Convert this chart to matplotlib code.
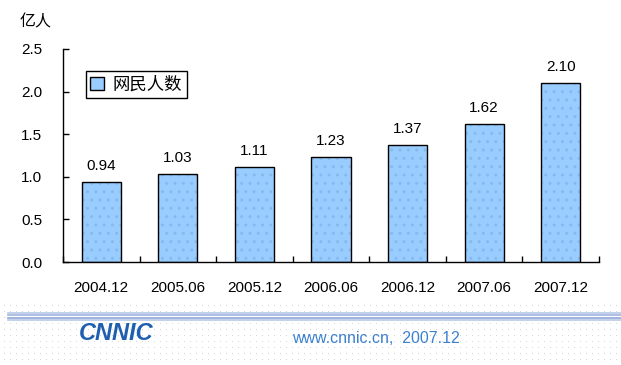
import matplotlib
matplotlib.use("Agg")
import matplotlib.pyplot as plt
from matplotlib.patches import Rectangle
import numpy as np

plt.rcParams['font.family'] = ['Liberation Sans', 'Noto Sans CJK SC', 'DejaVu Sans']

categories = ["2004.12", "2005.06", "2005.12", "2006.06", "2006.12", "2007.06", "2007.12"]
values = [0.94, 1.03, 1.11, 1.23, 1.37, 1.62, 2.10]
value_labels = ["0.94", "1.03", "1.11", "1.23", "1.37", "1.62", "2.10"]
series_name = "网民人数"
unit_label = "亿人"
yticks = [0.0, 0.5, 1.0, 1.5, 2.0, 2.5]
footer_site = "www.cnnic.cn,  2007.12"
logo_text = "CNNIC"

W, H = 621, 365
fig = plt.figure(figsize=(W / 100, H / 100), dpi=100)
fig.patch.set_facecolor("white")

ax = fig.add_axes([63 / W, 1 - 262 / H, (599 - 63) / W, (262 - 49) / H])
x = np.arange(len(categories))
bw = 0.51
plt.rcParams['hatch.linewidth'] = 1.0
ax.bar(x, values, width=bw, color="#99CCFF", edgecolor="#86B9EE", linewidth=0,
       hatch="..", zorder=2)
ax.bar(x, values, width=bw, facecolor="none", edgecolor="black", linewidth=1.0,
       zorder=3)
for xi, v, lab in zip(x, values, value_labels):
    ax.text(xi, v + 0.19, lab, ha="center", va="center", fontsize=11, color="black")

ax.set_xlim(-0.5, len(categories) - 0.5)
ax.set_ylim(0, 2.5)
ax.set_yticks(yticks)
ax.set_yticklabels([f"{t:.1f}" for t in yticks], fontsize=11)
ax.set_xticks(np.arange(len(categories) + 1) - 0.5, minor=False)
ax.set_xticklabels([""] * (len(categories) + 1))
ax.set_xticks(x, minor=True)
ax.set_xticklabels(categories, minor=True, fontsize=11)
ax.tick_params(axis="x", which="major", direction="in", length=4, width=1)
ax.tick_params(axis="x", which="minor", length=0, pad=14)
ax.tick_params(axis="y", direction="in", length=4, width=1, pad=15)
for s in ["top", "right"]:
    ax.spines[s].set_visible(False)
for s in ["left", "bottom"]:
    ax.spines[s].set_linewidth(1.0)

handle = Rectangle((0, 0), 1, 1, facecolor="#99CCFF", edgecolor="black", linewidth=1)
leg = ax.legend([handle], [series_name], loc="upper left",
                bbox_to_anchor=(86 / W, 1 - 71 / H), bbox_transform=fig.transFigure,
                prop={"family": ["Noto Sans CJK SC"], "size": 12.5},
                handlelength=0.8, handleheight=0.8, handletextpad=0.5,
                borderpad=0.25, fancybox=False, framealpha=1, borderaxespad=0)
leg.get_frame().set_edgecolor("black")
leg.get_frame().set_linewidth(1.0)

fig.text(20 / W, 1 - 22 / H, unit_label, fontsize=11.5, ha="left", va="center",
         family=["Noto Sans CJK SC"])

# footer
fax = fig.add_axes([0, 0, 1, 1 - 300 / H], zorder=-1)
fax.set_xlim(0, W)
fax.set_ylim(H, 300)
fax.axis("off")
dx, dy = np.meshgrid(np.arange(4, W, 6), np.arange(305, H, 6))
fax.scatter(dx.ravel(), dy.ravel(), s=0.5, color="#D4D4D4", linewidths=0)
for yy, c in [(313, "#B8C8E8"), (315.5, "#9FB4E0"), (318, "#8FA6D8"), (320.5, "#B8C8E8")]:
    fax.plot([8, W], [yy, yy], color=c, linewidth=1.2)
fax.text(116, 334, logo_text, fontsize=17, fontweight="bold", style="italic",
         color="#1F5FAF", ha="center", va="center", family="Liberation Sans")
fax.text(376, 339, footer_site, fontsize=11.5, color="#3C80D0", ha="center", va="center")

fig.savefig("out.png", dpi=100)
